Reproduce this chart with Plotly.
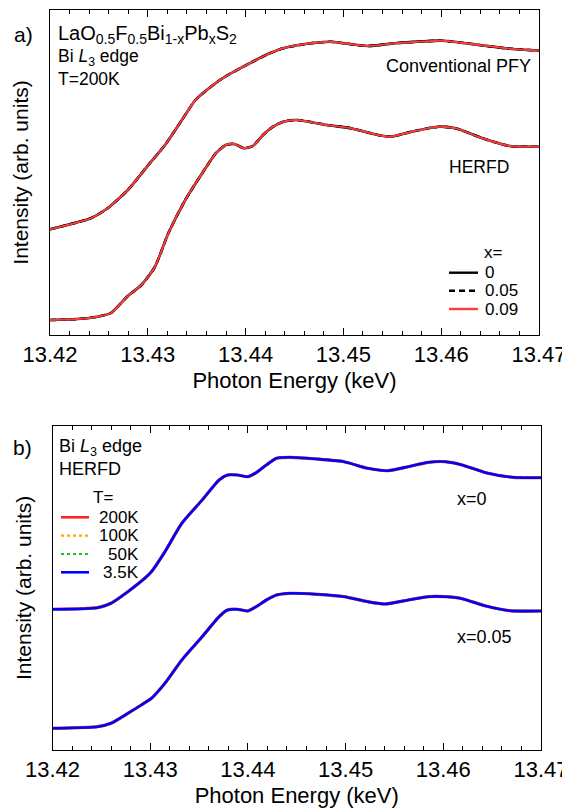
import plotly.graph_objects as go

# ---------------- data ----------------
# Panel a) Conventional PFY, T=200K
E_PFY = [13.4200, 13.42416, 13.42589, 13.42796, 13.43003, 13.43176, 13.43349, 13.43487,
         13.43625, 13.43763, 13.44040, 13.44247, 13.44385, 13.44661, 13.44869, 13.45249,
         13.45525, 13.46009, 13.46389, 13.46665, 13.4700]
I_PFY = [1.057, 1.167, 1.267, 1.450, 1.697, 1.900, 2.150, 2.350,
         2.467, 2.567, 2.717, 2.817, 2.867, 2.917, 2.933, 2.890,
         2.917, 2.943, 2.900, 2.867, 2.843]

# Panel a) HERFD, T=200K
E_HERFD_A = [13.4200, 13.42243, 13.42485, 13.42623, 13.42796, 13.42934, 13.43072, 13.43210,
             13.43383, 13.43556, 13.43694, 13.43798, 13.43884, 13.43988, 13.44074, 13.44178,
             13.44281, 13.44385, 13.44523, 13.44834, 13.45076, 13.45352, 13.45490, 13.45698,
             13.45974, 13.46147, 13.46423, 13.46699, 13.4700]
I_HERFD_A = [0.150, 0.157, 0.183, 0.220, 0.390, 0.500, 0.680, 1.017,
             1.350, 1.617, 1.817, 1.900, 1.910, 1.867, 1.890, 2.000,
             2.083, 2.133, 2.150, 2.100, 2.067, 2.000, 1.983, 2.033,
             2.083, 2.067, 1.967, 1.890, 1.883]

X_VALUES = ["0", "0.05", "0.09"]

# Panel b) HERFD, x=0
E_B_X0 = [13.4200, 13.42460, 13.42598, 13.42771, 13.42944, 13.43013, 13.43151, 13.43324,
          13.43532, 13.43705, 13.43791, 13.43895, 13.43999, 13.44085, 13.44189, 13.44293,
          13.44431, 13.44707, 13.44984, 13.45226, 13.45434, 13.45641, 13.45848, 13.46021,
          13.46194, 13.46436, 13.46713, 13.4700]
I_B_X0 = [1.407, 1.423, 1.467, 1.583, 1.717, 1.783, 1.983, 2.267,
          2.500, 2.700, 2.750, 2.750, 2.733, 2.773, 2.850, 2.917,
          2.927, 2.910, 2.883, 2.817, 2.793, 2.833, 2.877, 2.883,
          2.850, 2.773, 2.727, 2.723]

# Panel b) HERFD, x=0.05
E_B_X005 = [13.4200, 13.42460, 13.42598, 13.42771, 13.42909, 13.43013, 13.43151, 13.43324,
            13.43532, 13.43705, 13.43791, 13.43895, 13.43999, 13.44085, 13.44189, 13.44293,
            13.44431, 13.44707, 13.44984, 13.45226, 13.45399, 13.45641, 13.45848, 13.46021,
            13.46194, 13.46436, 13.46678, 13.4700]
I_B_X005 = [0.217, 0.233, 0.267, 0.367, 0.450, 0.517, 0.667, 0.900,
            1.133, 1.333, 1.400, 1.407, 1.390, 1.433, 1.500, 1.550,
            1.567, 1.557, 1.533, 1.483, 1.460, 1.500, 1.533, 1.533,
            1.513, 1.440, 1.393, 1.390]

T_VALUES = ["200K", "100K", "50K", "3.5K"]

X_TICKS = [13.42, 13.43, 13.44, 13.45, 13.46, 13.47]
X_TICK_TEXT = ["13.42", "13.43", "13.44", "13.45", "13.46", "13.47"]

# ---------------- figure ----------------
FONT = "Liberation Sans, Arial, Helvetica, sans-serif"
fig = go.Figure()

RED = "#ff3b3b"
styles_a = [dict(color="black", width=2.6, dash="solid"),
            dict(color="black", width=2.6, dash="6px,4px"),
            dict(color=RED, width=2.0, dash="solid")]
for lab, st in zip(X_VALUES, styles_a):
    fig.add_trace(go.Scatter(x=E_PFY, y=I_PFY, mode="lines", name="x=" + lab,
                             line=dict(shape="spline", smoothing=0.6, **st),
                             xaxis="x", yaxis="y", showlegend=False))
    fig.add_trace(go.Scatter(x=E_HERFD_A, y=I_HERFD_A, mode="lines", name="x=" + lab,
                             line=dict(shape="spline", smoothing=0.6, **st),
                             xaxis="x", yaxis="y", showlegend=False))

styles_b = [dict(color="#ff2020", width=3.2, dash="solid"),
            dict(color="#ffa500", width=2.5, dash="dot"),
            dict(color="#1fc01f", width=2.5, dash="dot"),
            dict(color="#0000ff", width=2.6, dash="solid")]
for lab, st in zip(T_VALUES, styles_b):
    fig.add_trace(go.Scatter(x=E_B_X0, y=I_B_X0, mode="lines", name="T=" + lab,
                             line=dict(shape="spline", smoothing=0.6, **st),
                             xaxis="x2", yaxis="y2", showlegend=False))
    fig.add_trace(go.Scatter(x=E_B_X005, y=I_B_X005, mode="lines", name="T=" + lab,
                             line=dict(shape="spline", smoothing=0.6, **st),
                             xaxis="x2", yaxis="y2", showlegend=False))

# The page adds an 8px body margin, so the figure is drawn 8px smaller and shifted.
PW = 491.0
PH = 740.0
def px(x):
    return (x - 50) / PW
def py(y):
    return (750 - y) / PH

xaxis_common = dict(range=[13.42, 13.47], tickmode="array", tickvals=X_TICKS, ticktext=X_TICK_TEXT,
                    ticks="inside", ticklen=7, tickwidth=1, tickcolor="black",
                    showline=True, linecolor="black", linewidth=1, mirror="ticks",
                    showgrid=False, zeroline=False,
                    tickfont=dict(family=FONT, size=22, color="black"),
                    minor=dict(dtick=0.002, tick0=13.42, ticks="inside", ticklen=4, tickcolor="black", showgrid=False),
                    title=dict(text="Photon Energy (keV)", font=dict(family=FONT, size=22, color="black"), standoff=6))
yaxis_common = dict(showticklabels=False, ticks="", showline=True, linecolor="black", linewidth=1,
                    mirror=True, showgrid=False, zeroline=False,
                    title=dict(text="Intensity (arb. units)", font=dict(family=FONT, size=21, color="black"), standoff=14))

fig.update_layout(
    width=562, height=802,
    margin=dict(l=42, r=29, t=2, b=60),
    paper_bgcolor="white", plot_bgcolor="white",
    font=dict(family=FONT, color="black"),
    showlegend=False,
    xaxis=dict(domain=[0, 489 / PW], anchor="y", **xaxis_common),
    yaxis=dict(domain=[py(335), 1], range=[0, 3.25], anchor="x", **yaxis_common),
    xaxis2=dict(domain=[2.5 / PW, 1], anchor="y2", **xaxis_common),
    yaxis2=dict(domain=[0, py(425.7)], range=[0, 3.243], anchor="x2", **yaxis_common),
)

def ann(text, x, y, size, xanchor="left"):
    fig.add_annotation(text=text, x=px(x), y=py(y), xref="paper", yref="paper", showarrow=False,
                       xanchor=xanchor, yanchor="middle", borderpad=0,
                       font=dict(family=FONT, size=size, color="black"))

def key_line(x0, x1, y, color, width, dash):
    fig.add_shape(type="line", x0=px(x0), x1=px(x1), y0=py(y), y1=py(y), xref="paper", yref="paper",
                  line=dict(color=color, width=width, dash=dash))

ann("a)", 23, 35, 21, "center")
ann("LaO<sub>0.5</sub>F<sub>0.5</sub>Bi<sub>1-x</sub>Pb<sub>x</sub>S<sub>2</sub>", 57, 35, 20)
ann("Bi <i>L</i><sub>3</sub> edge", 57, 57, 17.5)
ann("T=200K", 57, 79, 17.5)
ann("Conventional PFY", 532, 66, 18, "right")
ann("HERFD", 479, 167, 17.5, "center")

# legend a)
ann("x=", 493, 253, 17, "center")
for lab, st, yy in zip(X_VALUES, styles_a, [272.7, 290.7, 309]):
    key_line(449, 478, yy, st["color"], 2.4, st["dash"])
    ann(lab, 484, yy, 17)

ann("b)", 22, 447, 21, "center")
ann("Bi <i>L</i><sub>3</sub> edge", 58, 448, 18)
ann("HERFD", 58, 469, 18)
ann("x=0", 456, 499, 18)
ann("x=0.05", 456, 637, 18)

# legend b)
ann("T=", 103, 497, 17, "center")
for lab, st, yy in zip(T_VALUES, styles_b, [517.3, 535.7, 554, 572.3]):
    key_line(61, 89, yy, st["color"], 2.6 if st["dash"] == "solid" else 2.2, st["dash"])
    ann(lab, 140, yy, 17, "right")

fig.write_html("out.html")
